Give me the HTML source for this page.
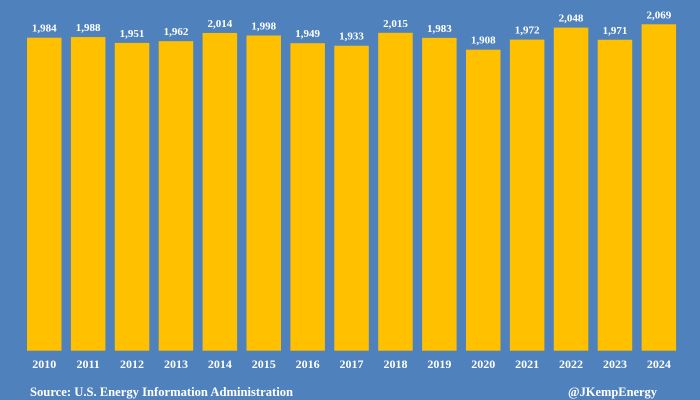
<!DOCTYPE html>
<html><head><meta charset="utf-8"><style>
body{margin:0;background:#4f81bd}
svg{display:block}
text{font-family:"Liberation Serif",serif;font-weight:bold;fill:#fff}
</style></head><body>
<svg width="700" height="400">
<rect width="700" height="400" fill="#4f81bd"/>
<g id="bars"></g>
<text x="30" y="396" font-size="12.5" textLength="263" lengthAdjust="spacingAndGlyphs">Source: U.S. Energy Information Administration</text>
<text x="568" y="396" font-size="12.5" textLength="89" lengthAdjust="spacingAndGlyphs">@JKempEnergy</text>
</svg>
<script>
const years=["2010","2011","2012","2013","2014","2015","2016","2017","2018","2019","2020","2021","2022","2023","2024"];
const values=[1984,1988,1951,1962,2014,1998,1949,1933,2015,1983,1908,1972,2048,1971,2069];
const labels=["1,984","1,988","1,951","1,962","2,014","1,998","1,949","1,933","2,015","1,983","1,908","1,972","2,048","1,971","2,069"];
const base=350.7, scale=313/1984, x0=27, pitch=43.9, bw=34.5;
const ns="http://www.w3.org/2000/svg", g=document.getElementById('bars');
const yS=v=>base-v*scale;
years.forEach((yr,i)=>{
  const x=x0+i*pitch, y=yS(values[i]);
  const r=document.createElementNS(ns,'rect');
  r.setAttribute('x',x);r.setAttribute('y',y);r.setAttribute('width',bw);r.setAttribute('height',base-y);r.setAttribute('fill','#ffc000');
  
  
  g.appendChild(r);
  const t=document.createElementNS(ns,'text');
  t.setAttribute('x',x+bw/2);t.setAttribute('y',y-6);t.setAttribute('font-size','11');t.setAttribute('text-anchor','middle');
  t.textContent=labels[i];
  
  
  g.appendChild(t);
  const l=document.createElementNS(ns,'text');
  l.setAttribute('x',x+bw/2);l.setAttribute('y',368);l.setAttribute('font-size','12');l.setAttribute('text-anchor','middle');
  l.textContent=yr;
  
  
  g.appendChild(l);
});
</script>
</body></html>
